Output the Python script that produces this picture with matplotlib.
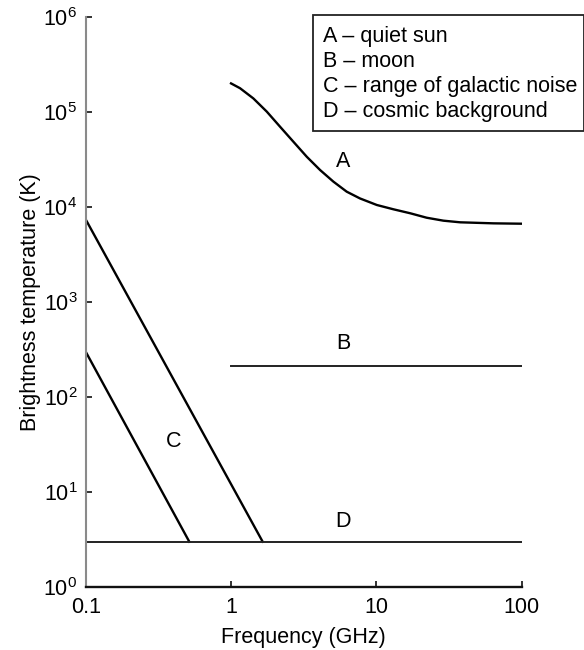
import matplotlib
matplotlib.use("Agg")
import matplotlib.pyplot as plt
from matplotlib.patches import Rectangle

plt.rcParams['font.family'] = ['Liberation Sans', 'DejaVu Sans']
plt.rcParams['mathtext.fontset'] = 'custom'
plt.rcParams['mathtext.rm'] = 'Liberation Sans'

# ---- data ----
a_freq = [1.0, 1.153, 1.424, 1.761, 2.174, 2.684, 3.32, 4.10, 5.06, 6.25,
          7.72, 10.07, 13.1, 17.1, 22.2, 28.9, 37.7, 63.9, 100]
a_temp = [2.0e5, 1.78e5, 1.39e5, 1.01e5, 7.0e4, 4.87e4, 3.38e4, 2.45e4,
          1.85e4, 1.45e4, 1.23e4, 1.05e4, 9460, 8590, 7710, 7180, 6900,
          6730, 6670]

b_freq = [1, 100]
b_temp = [213, 213]

c_upper_freq = [0.1, 1.65]
c_upper_temp = [7400, 3]
c_lower_freq = [0.1, 0.516]
c_lower_temp = [300, 3]

d_freq = [0.1, 100]
d_temp = [3, 3]

x_ticks = [0.1, 1, 10, 100]
x_ticklabels = ['0.1', '1', '10', '100']
y_ticks = [1, 10, 100, 1e3, 1e4, 1e5, 1e6]
y_ticklabels = [r'$\mathregular{10^{%d}}$' % i for i in range(7)]

curve_labels = ['A', 'B', 'C', 'D']
curve_label_pos = [(5.9, 3.0e4), (5.9, 367), (0.405, 34), (5.9, 4.87)]

legend_lines = ['A \u2013 quiet sun', 'B \u2013 moon',
                'C \u2013 range of galactic noise', 'D \u2013 cosmic background']

# ---- figure ----
W, H = 584, 650
fig = plt.figure(figsize=(W / 100, H / 100), dpi=100)
ax = fig.add_axes([85.7 / W, 1 - 587 / H, (521.7 - 85.7) / W, (587 - 17) / H])
ax.set_xscale('log')
ax.set_yscale('log')
ax.set_xlim(0.1, 100)
ax.set_ylim(1, 1e6)

ax.plot(a_freq, a_temp, color='black', lw=1.7, solid_joinstyle='round')
ax.plot(b_freq, b_temp, color='#222222', lw=1.4)
ax.plot(c_upper_freq, c_upper_temp, color='black', lw=1.7)
ax.plot(c_lower_freq, c_lower_temp, color='black', lw=1.7)
ax.plot(d_freq, d_temp, color='#222222', lw=1.4)

for lab, (x, y) in zip(curve_labels, curve_label_pos):
    ax.text(x, y, lab, fontsize=15.5, ha='center', va='center')

ax.spines['top'].set_visible(False)
ax.spines['right'].set_visible(False)
ax.spines['left'].set_color('#8a8a8a')
ax.spines['left'].set_linewidth(1.5)
ax.spines['bottom'].set_color('#111111')
ax.spines['bottom'].set_linewidth(1.7)

ax.set_xticks(x_ticks)
ax.set_xticklabels(x_ticklabels)
ax.set_yticks(y_ticks)
ax.set_yticklabels(y_ticklabels)
ax.minorticks_off()
ax.tick_params(axis='both', direction='in', length=4, width=1.3, labelsize=15.5,
               color='#222222')
ax.tick_params(axis='y', pad=6)
ax.tick_params(axis='x', pad=7)

ax.set_xlabel('Frequency (GHz)', fontsize=15.5, labelpad=7)
ax.set_ylabel('Brightness temperature (K)', fontsize=15.5, labelpad=2)

# legend box (extends past the axes, in figure pixels)
fig.patches.append(Rectangle((313 / W, 1 - 131 / H), (584 - 313) / W, 116 / H,
                             transform=fig.transFigure, fill=False,
                             edgecolor='#222222', lw=1.3))
for i, t in enumerate(legend_lines):
    fig.text(323 / W, 1 - (42 + 25 * i) / H, t, fontsize=15.5,
             ha='left', va='baseline')

fig.savefig('out.png', dpi=100)
